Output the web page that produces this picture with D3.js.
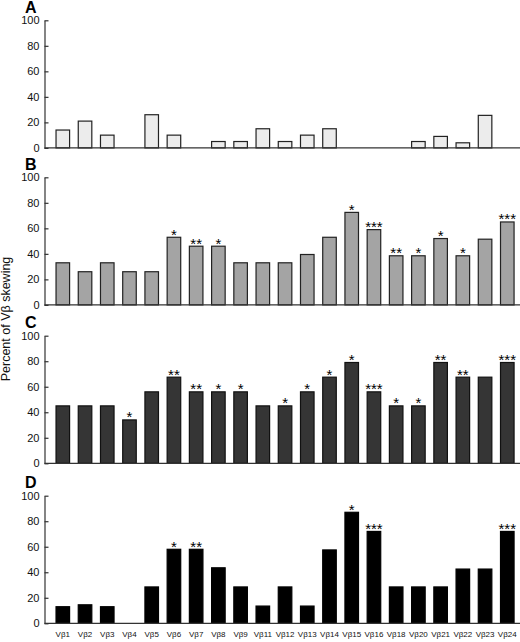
<!DOCTYPE html>
<html>
<head>
<meta charset="utf-8">
<script src="https://cdn.jsdelivr.net/npm/d3@7"></script>
<style>
  body { margin: 0; background: #fff; }
  svg { display: block; }
</style>
</head>
<body>
<div id="chart-area"></div>
<script>
var categories = ["Vβ1", "Vβ2", "Vβ3", "Vβ4", "Vβ5", "Vβ6", "Vβ7", "Vβ8", "Vβ9", "Vβ11",
    "Vβ12", "Vβ13", "Vβ14", "Vβ15", "Vβ16", "Vβ18", "Vβ20", "Vβ21", "Vβ22", "Vβ23", "Vβ24"];

var valuesA = [14, 21, 10, 0, 26, 10, 0, 5, 5, 15, 5, 10, 15, 0, 0, 0, 5, 9, 4, 25.5, 0];
var valuesB = [33, 26, 33, 26, 26, 53, 46, 46, 33, 33, 33, 39.5, 53, 72.5, 59, 38.5, 38.5, 52, 38.5, 51.5, 65];
var valuesC = [45, 45, 45, 34, 56, 67.5, 56, 56, 56, 45, 45, 56, 67.5, 79, 56, 45, 45, 79, 67.5, 67.5, 79];
var valuesD = [13, 14.5, 13, 0, 28.5, 58, 58, 43.5, 28.5, 13.5, 28.5, 13.5, 57.5, 87, 72, 28.5, 28.5, 28.5, 42.5, 42.5, 72];

var starsA = [];
var starsB = ["", "", "", "", "", "*", "**", "*", "", "", "", "", "", "*", "***", "**", "*", "*", "*", "", "***"];
var starsC = ["", "", "", "*", "", "**", "**", "*", "*", "", "*", "*", "*", "*", "***", "*", "*", "**", "**", "", "***"];
var starsD = ["", "", "", "", "", "*", "**", "", "", "", "", "", "", "*", "***", "", "", "", "", "", "***"];

var yTicks = [0, 20, 40, 60, 80, 100];

var panels = [
    { label: "A", values: valuesA, stars: starsA, top: 20.3, fill: "#ececec", stroke: "#222" },
    { label: "B", values: valuesB, stars: starsB, top: 177.3, fill: "#a4a4a4", stroke: "#222" },
    { label: "C", values: valuesC, stars: starsC, top: 335.7, fill: "#353535", stroke: "#111" },
    { label: "D", values: valuesD, stars: starsD, top: 495.7, fill: "#000", stroke: "#000" }
];

var width = 520;
var height = 642;
var axisLeftX = 44.5;
var panelHeight = 127.6;

var svg = d3.select("#chart-area")
    .append("svg")
    .attr("width", width)
    .attr("height", height)
    .style("font-family", "'Liberation Sans', Arial, Helvetica, sans-serif");

var x = d3.scaleBand()
    .domain(categories)
    .range([51.7, 518.4])
    .paddingInner(0.39)
    .paddingOuter(0.195);

panels.forEach(function(p, idx) {
    var y = d3.scaleLinear()
        .domain([0, 100])
        .range([p.top + panelHeight, p.top]);

    var g = svg.append("g");

    // pair each value with its category, skip empty bars
    var rows = p.values
        .map((v, i) => ({ cat: categories[i], value: v, star: p.stars[i] || "" }))
        .filter(d => d.value > 0);

    // bars
    g.selectAll("rect")
        .data(rows)
        .enter()
        .append("rect")
        .attr("x", d => x(d.cat))
        .attr("y", d => y(d.value))
        .attr("width", x.bandwidth())
        .attr("height", d => y(0) - y(d.value))
        .attr("fill", p.fill)
        .attr("stroke", p.stroke)
        .attr("stroke-width", 1.2);

    // significance stars
    g.selectAll(".star")
        .data(rows.filter(d => d.star))
        .enter()
        .append("text")
        .attr("class", "star")
        .attr("x", d => x(d.cat) + x.bandwidth() / 2)
        .attr("y", d => y(d.value) + 2.5)
        .attr("text-anchor", "middle")
        .attr("font-size", "15px")
        .attr("fill", "#000")
        .text(d => d.star);

    // y axis
    var yAxis = g.append("g")
        .attr("transform", `translate(${axisLeftX}, 0)`)
        .call(d3.axisLeft(y)
            .tickValues(yTicks)
            .tickSize(-4)
            .tickPadding(5)
            .tickSizeOuter(0));
    yAxis.select(".domain")
        .attr("stroke", "#333")
        .attr("stroke-width", 1.2);
    yAxis.selectAll(".tick line")
        .attr("stroke", "#333")
        .attr("stroke-width", 1.2);
    yAxis.selectAll(".tick text")
        .attr("font-size", "11px")
        .attr("font-family", "'Liberation Sans', Arial, sans-serif")
        .attr("fill", "#111");

    // x baseline
    g.append("line")
        .attr("x1", axisLeftX)
        .attr("x2", width)
        .attr("y1", y(0))
        .attr("y2", y(0))
        .attr("stroke", "#333")
        .attr("stroke-width", 1.2);

    // panel letter
    g.append("text")
        .attr("x", 25)
        .attr("y", p.top - 7.5)
        .attr("font-size", "16px")
        .attr("font-weight", "bold")
        .attr("fill", "#000")
        .text(p.label);

    // category labels only under the last panel
    if (idx === panels.length - 1) {
        g.selectAll(".cat")
            .data(categories)
            .enter()
            .append("text")
            .attr("class", "cat")
            .attr("x", d => x(d) + x.bandwidth() / 2)
            .attr("y", y(0) + 13.2)
            .attr("text-anchor", "middle")
            .attr("font-size", "8px")
            .attr("font-family", "'Liberation Sans Narrow', 'Arial Narrow', 'Liberation Sans', sans-serif")
            .attr("fill", "#111")
            .text(d => d);
    }
});

svg.append("text")
    .attr("transform", "rotate(-90)")
    .attr("x", -319)
    .attr("y", 10)
    .attr("text-anchor", "middle")
    .attr("font-size", "12.5px")
    .attr("fill", "#111")
    .text("Percent of Vβ skewing");
</script>
</body>
</html>
